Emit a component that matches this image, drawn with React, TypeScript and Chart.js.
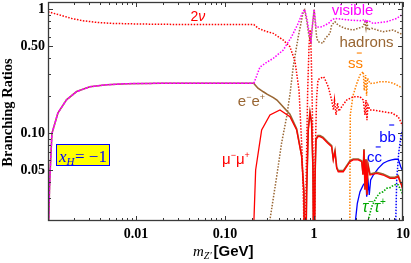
import React, { useEffect, useRef } from "react";
import { Chart, registerables } from "chart.js";

Chart.register(...registerables);

type Pt = [number, number];

// axis ranges: m_Z' in GeV, branching ratio
const X_RANGE: Pt = [0.00103, 10];
const Y_RANGE: Pt = [0.0195, 1.14];

const xTickValues = [0.01, 0.1, 1, 10];
const xTickLabels = ["0.01", "0.10", "1", "10"];
const yTickValues = [0.05, 0.1, 0.5, 1];
const yTickLabels = ["0.05", "0.10", "0.50", "1"];

const MU_THRESHOLD = 0.2113;

const brTwoNu: Pt[] = [
  [0.00103, 0.951], [0.0014, 0.895], [0.0019, 0.84], [0.00254, 0.805], [0.0035, 0.783],
  [0.00514, 0.767], [0.0111, 0.757], [0.03, 0.751], [0.1, 0.749], [0.2113, 0.749],
  [0.237, 0.699], [0.29, 0.66], [0.349, 0.637], [0.452, 0.562], [0.537, 0.497],
  [0.612, 0.38], [0.68, 0.22], [0.733, 0.073], [0.765, 0.025], [0.79, 0.003],
  [0.815, 0.04], [0.85, 0.22], [0.88, 0.5], [0.905, 0.68], [0.93, 0.45],
  [0.96, 0.15], [0.985, 0.04], [1.005, 0.003], [1.03, 0.06], [1.07, 0.19],
  [1.109, 0.268], [1.168, 0.276], [1.285, 0.284], [1.35, 0.265], [1.448, 0.236],
  [1.58, 0.1845], [1.655, 0.153], [1.7, 0.1845], [1.77, 0.14], [1.84, 0.1745],
  [1.91, 0.15], [2.05, 0.163], [2.33, 0.1845], [2.76, 0.1962], [3.288, 0.1962],
  [3.58, 0.1845], [3.741, 0.14], [3.84, 0.1845], [3.94, 0.127], [4.044, 0.168],
  [4.258, 0.153], [4.6, 0.153], [5.98, 0.1485], [7.48, 0.145], [8.85, 0.1353],
  [9.6, 0.1197], [10, 0.1124],
];

const brVisible: Pt[] = [
  [0.001028, 0.005], [0.00105, 0.02], [0.00107, 0.035], [0.00109, 0.05], [0.00114, 0.099],
  [0.00133, 0.145], [0.00166, 0.185], [0.00216, 0.216], [0.00304, 0.236], [0.00469, 0.245],
  [0.0079, 0.25], [0.02, 0.252], [0.1, 0.252], [0.2113, 0.252],
  [0.2473, 0.34], [0.3, 0.375], [0.349, 0.4], [0.452, 0.467], [0.56, 0.598],
  [0.666, 0.767], [0.74, 0.93], [0.785, 0.995], [0.83, 0.85], [0.88, 0.65],
  [0.925, 0.56], [0.96, 0.75], [1.005, 0.995], [1.03, 0.85], [1.053, 0.72],
  [1.109, 0.715], [1.23, 0.72], [1.46, 0.767], [1.58, 0.815], [1.72, 0.841],
  [2.0, 0.83], [2.5, 0.815], [3.3, 0.805], [3.6, 0.815], [3.74, 0.79],
  [3.84, 0.82], [3.94, 0.78], [4.04, 0.81], [4.6, 0.767], [6.56, 0.79],
  [8.5, 0.841], [9.6, 0.895], [10, 0.928],
];

const brHadrons: Pt[] = [
  [0.29, 0.008], [0.3203, 0.0199], [0.35, 0.03], [0.381, 0.0444], [0.433, 0.083],
  [0.4934, 0.1353], [0.54, 0.21], [0.585, 0.343], [0.666, 0.598], [0.758, 0.951],
  [0.785, 0.985], [0.83, 0.8], [0.88, 0.6], [0.925, 0.545], [0.96, 0.72],
  [1.005, 0.99], [1.03, 0.8], [1.07, 0.6], [1.109, 0.545], [1.262, 0.53],
  [1.34, 0.58], [1.513, 0.637], [1.58, 0.743], [1.722, 0.79], [1.86, 0.743],
  [2.23, 0.699], [2.743, 0.677], [3.553, 0.72], [3.74, 0.79], [3.84, 0.7],
  [3.94, 0.8], [4.04, 0.68], [4.45, 0.699], [5.96, 0.656], [7.72, 0.677],
  [9.25, 0.637], [10, 0.62],
];

const brEE: Pt[] = [
  [0.001028, 0.005], [0.00105, 0.02], [0.00107, 0.035], [0.00109, 0.05], [0.00114, 0.099],
  [0.00133, 0.145], [0.00166, 0.185], [0.00216, 0.216], [0.00304, 0.236], [0.00469, 0.245],
  [0.0079, 0.25], [0.02, 0.252], [0.1, 0.252], [0.2113, 0.252], [0.215, 0.247],
  [0.235, 0.23], [0.27, 0.215], [0.3, 0.205], [0.35, 0.193], [0.384, 0.1845],
  [0.45, 0.163], [0.537, 0.142], [0.639, 0.108], [0.727, 0.066], [0.772, 0.0335],
  [0.792, 0.003], [0.828, 0.0335], [0.863, 0.108], [0.902, 0.148], [0.94, 0.123],
  [0.975, 0.051], [1.0, 0.003], [1.026, 0.041], [1.053, 0.09], [1.109, 0.0955],
  [1.168, 0.0955], [1.262, 0.0925], [1.42, 0.085], [1.58, 0.079], [1.648, 0.062],
  [1.722, 0.072], [1.8, 0.053], [1.875, 0.0497], [2.135, 0.0497], [2.54, 0.0598],
  [2.76, 0.0617], [3.146, 0.0617], [3.436, 0.0598], [3.553, 0.0467], [3.646, 0.0743],
  [3.741, 0.0354], [3.84, 0.0617], [3.94, 0.0322], [4.044, 0.0563], [4.258, 0.0467],
  [5.065, 0.0482], [5.98, 0.0467], [7.145, 0.044], [8.13, 0.044], [8.85, 0.0453],
  [9.253, 0.0413], [9.6, 0.0389], [10, 0.0354],
];

const brMuMu: Pt[] = [
  [0.2113, 0.003], [0.2118, 0.0199], [0.2213, 0.0503], [0.2585, 0.1057], [0.3203, 0.1397],
  [0.415, 0.1532], [0.537, 0.1353], [0.639, 0.1057], [0.727, 0.0644], [0.772, 0.0327],
  [0.792, 0.003], [0.828, 0.0327], [0.863, 0.1057], [0.902, 0.145], [0.94, 0.12],
  [0.975, 0.05], [1.0, 0.003], [1.026, 0.04], [1.053, 0.0878], [1.109, 0.0934],
  [1.168, 0.0934], [1.262, 0.0907], [1.42, 0.0831], [1.58, 0.0775], [1.648, 0.0606],
  [1.722, 0.0707], [1.8, 0.0519], [1.875, 0.0487], [2.135, 0.0487], [2.54, 0.0587],
  [2.76, 0.0606], [3.146, 0.0606], [3.436, 0.0587], [3.553, 0.0458], [3.646, 0.0729],
  [3.741, 0.0347], [3.84, 0.0606], [3.94, 0.0316], [4.044, 0.0552], [4.258, 0.0458],
  [5.065, 0.0473], [5.98, 0.0458], [7.145, 0.0431], [8.13, 0.0431], [8.85, 0.0444],
  [9.253, 0.0405], [9.6, 0.0381], [10, 0.0347],
];

const brSS: Pt[] = [
  [2.52, 0.008], [2.54, 0.05], [2.56, 0.14], [2.743, 0.2], [3.02, 0.25],
  [3.288, 0.294], [3.58, 0.312], [3.67, 0.22], [3.8, 0.294], [3.9, 0.2],
  [4.0, 0.277], [4.258, 0.251], [4.846, 0.253], [5.514, 0.259], [6.56, 0.259],
  [7.72, 0.253], [9.25, 0.236], [10, 0.231],
];

const brCC: Pt[] = [
  [2.9, 0.01], [2.93, 0.0199], [3.07, 0.0271], [3.288, 0.0336], [3.58, 0.0381],
  [3.84, 0.0405], [3.909, 0.0306], [4.075, 0.0393], [4.18, 0.0316], [4.33, 0.0418],
  [4.64, 0.0458], [5.27, 0.0519], [6.0, 0.057], [6.83, 0.0597], [7.47, 0.0606],
  [8.13, 0.0614], [8.86, 0.0614], [9.42, 0.0535], [10, 0.0487],
];

const brBB: Pt[] = [
  [8.2, 0.012], [8.3, 0.0199], [8.5, 0.0418], [8.95, 0.069], [9.46, 0.0934], [10, 0.109],
];

const brTauTau: Pt[] = [
  [3.6, 0.008], [4.075, 0.0199], [4.45, 0.0254], [4.64, 0.0271], [5.065, 0.0306],
  [5.51, 0.0328], [5.98, 0.0336], [6.56, 0.0358], [7.145, 0.0362], [7.78, 0.0378],
  [8.5, 0.0386], [8.9, 0.038], [9.25, 0.0355], [10, 0.032],
];

const RED = "#ff0000";
const MAGENTA = "#ff00ff";
const BROWN = "#996633";
const ORANGE = "#ff8000";
const BLUE = "#0000ff";
const GREEN = "#00a800";
const FRAME = "#3a3a3a";
const SANS = '"Liberation Sans", Arial, sans-serif';
const SERIF = '"Liberation Serif", "Times New Roman", serif';

const sans = (s: number) => `${s}px ${SANS}`;
const sansI = (s: number) => `italic ${s}px ${SANS}`;
const DOT = [1.5, 1.5];

type Seg = { t: string; font: string; dy?: number; bar?: boolean };
type CurveLabel = { at: Pt; color: string; segs: Seg[]; barDy?: number };

const curveLabels: CurveLabel[] = [
  { at: [0.0497, 0.8], color: RED, segs: [{ t: "2", font: sans(14) }, { t: "ν", font: sansI(14) }] },
  { at: [2.71, 0.903], color: MAGENTA, segs: [{ t: "visible", font: sans(15) }] },
  { at: [3.89, 0.498], color: BROWN, segs: [{ t: "hadrons", font: sans(15) }] },
  {
    at: [2.93, 0.3374], color: ORANGE, barDy: -14.5,
    segs: [{ t: "s", font: sans(15) }, { t: "s", font: sans(15), bar: true }],
  },
  {
    at: [0.1985, 0.165], color: BROWN,
    segs: [
      { t: "e", font: sans(15) }, { t: "−", font: sans(9), dy: -6 },
      { t: "e", font: sans(15) }, { t: "+", font: sans(9), dy: -6 },
    ],
  },
  {
    at: [0.133, 0.0562], color: RED,
    segs: [
      { t: "μ", font: sans(15) }, { t: "−", font: sans(9), dy: -6 },
      { t: "μ", font: sans(15) }, { t: "+", font: sans(9), dy: -6 },
    ],
  },
  {
    at: [6.7, 0.0846], color: BLUE, barDy: -17,
    segs: [{ t: "b", font: sans(15) }, { t: "b", font: sans(15), bar: true }],
  },
  {
    at: [4.78, 0.0584], color: BLUE, barDy: -15,
    segs: [{ t: "c", font: sans(15) }, { t: "c", font: sans(15), bar: true }],
  },
  {
    at: [4.72, 0.0231], color: GREEN,
    segs: [
      { t: "τ", font: sansI(16) }, { t: "−", font: sans(10), dy: -7 },
      { t: "τ", font: sansI(16) }, { t: "+", font: sans(10), dy: -7 },
    ],
  },
];

function drawRich(ctx: CanvasRenderingContext2D, segs: Seg[], cx: number, base: number, color: string, barDy = 0) {
  const widths = segs.map((s) => {
    ctx.font = s.font;
    return ctx.measureText(s.t).width;
  });
  const total = widths.reduce((a, b) => a + b, 0);
  let x = cx - total / 2;
  ctx.fillStyle = color;
  ctx.strokeStyle = color;
  ctx.textAlign = "left";
  ctx.textBaseline = "alphabetic";
  segs.forEach((s, i) => {
    ctx.font = s.font;
    ctx.fillText(s.t, x, base + (s.dy ?? 0));
    if (s.bar) {
      const mid = x + widths[i] / 2;
      ctx.lineWidth = 1.1;
      ctx.beginPath();
      ctx.moveTo(mid - 2.5, base + barDy);
      ctx.lineTo(mid + 2.5, base + barDy);
      ctx.stroke();
    }
    x += widths[i];
  });
}

const decorations = {
  id: "decorations",
  afterDraw(chart: any) {
    const { ctx, chartArea: a, scales } = chart;
    const xs = scales.x;
    const ys = scales.y;
    ctx.save();

    // frame with inward ticks on all four sides
    ctx.strokeStyle = FRAME;
    ctx.lineWidth = 1;
    ctx.beginPath();
    for (let e = -3; e <= 1; e++) {
      for (let m = 1; m < 10; m++) {
        const v = m * Math.pow(10, e);
        if (v < xs.min * 0.999 || v > xs.max * 1.001) continue;
        const p = Math.round(xs.getPixelForValue(v)) + 0.5;
        const len = m === 1 ? 5 : 3;
        ctx.moveTo(p, a.bottom);
        ctx.lineTo(p, a.bottom - len);
        ctx.moveTo(p, a.top);
        ctx.lineTo(p, a.top + len);
      }
    }
    for (let e = -2; e <= 0; e++) {
      for (let m = 1; m < 10; m++) {
        const v = m * Math.pow(10, e);
        if (v < ys.min * 0.999 || v > ys.max * 1.001) continue;
        const p = Math.round(ys.getPixelForValue(v)) + 0.5;
        const len = yTickValues.some((t) => Math.abs(t - v) < 1e-9) ? 5 : 3;
        ctx.moveTo(a.left, p);
        ctx.lineTo(a.left + len, p);
        ctx.moveTo(a.right, p);
        ctx.lineTo(a.right - len, p);
      }
    }
    ctx.stroke();
    ctx.lineWidth = 1.3;
    ctx.strokeRect(a.left + 0.5, a.top + 0.5, a.right - a.left - 1, a.bottom - a.top - 1);

    // curve labels
    for (const L of curveLabels) {
      drawRich(ctx, L.segs, xs.getPixelForValue(L.at[0]), ys.getPixelForValue(L.at[1]), L.color, L.barDy ?? 0);
    }

    // x_H box
    const bx = a.left + 8;
    const by = a.top + 142;
    ctx.fillStyle = "#ffff00";
    ctx.fillRect(bx, by, 54, 22);
    ctx.strokeStyle = BLUE;
    ctx.lineWidth = 1;
    ctx.strokeRect(bx + 0.5, by + 0.5, 53, 21);
    ctx.fillStyle = BLUE;
    ctx.textAlign = "left";
    ctx.textBaseline = "alphabetic";
    ctx.font = `italic 17px ${SERIF}`;
    ctx.fillText("x", bx + 3, by + 18);
    ctx.font = `italic 11px ${SERIF}`;
    ctx.fillText("H", bx + 10.5, by + 21);
    ctx.font = `17px ${SERIF}`;
    ctx.fillText("= −1", bx + 19, by + 18);

    // y axis title
    ctx.save();
    ctx.translate(8, (a.top + a.bottom) / 2 + 1);
    ctx.rotate(-Math.PI / 2);
    ctx.fillStyle = "#000";
    ctx.textAlign = "center";
    ctx.textBaseline = "middle";
    ctx.font = `bold 14.5px ${SERIF}`;
    ctx.fillText("Branching Ratios", 0, 0);
    ctx.restore();

    // x axis title
    ctx.fillStyle = "#000";
    ctx.textAlign = "left";
    ctx.textBaseline = "alphabetic";
    let tx = 193;
    const tb = 256;
    ctx.font = `italic 15px ${SERIF}`;
    ctx.fillText("m", tx, tb);
    tx += ctx.measureText("m").width;
    ctx.font = `italic 10px ${SERIF}`;
    ctx.fillText("Z′", tx, tb + 2.5);
    tx += ctx.measureText("Z′").width + 2;
    ctx.font = `bold 15px ${SANS}`;
    ctx.fillText("[GeV]", tx, tb);

    ctx.restore();
  },
};

function series(label: string, pts: Pt[], color: string, dotted: boolean, width = 1.3, extra: any = {}) {
  return {
    label,
    data: pts.map(([x, y]) => ({ x, y })),
    borderColor: color,
    backgroundColor: color,
    borderWidth: width,
    borderDash: dotted ? DOT : [],
    borderCapStyle: "butt",
    pointRadius: 0,
    showLine: true,
    fill: false,
    tension: 0,
    ...extra,
  };
}

export default function App() {
  const ref = useRef<HTMLCanvasElement | null>(null);
  useEffect(() => {
    if (!ref.current) return;
    const chart = new Chart(ref.current, {
      type: "scatter",
      data: {
        datasets: [
          series("visible", brVisible, MAGENTA, true, 1.5, {
            segment: {
              borderDash: (c: any) => (c.p1.parsed.x <= MU_THRESHOLD ? [3, 1] : undefined),
            },
          }),
          series("μ−μ+", brMuMu, RED, false, 1.3),
          series("2ν", brTwoNu, RED, true, 1.5),
          series("hadrons", brHadrons, BROWN, true, 1.5),
          series("e−e+", brEE, BROWN, false, 1.6),
          series("ss", brSS, ORANGE, true, 1.5),
          series("cc", brCC, BLUE, false, 1.3),
          series("bb", brBB, BLUE, true, 1.5),
          series("τ−τ+", brTauTau, GREEN, true, 1.6),
        ] as any,
      },
      options: {
        animation: false,
        responsive: false,
        events: [],
        layout: { padding: { top: 2, right: 8, left: 0, bottom: 0 } },
        plugins: { legend: { display: false }, tooltip: { enabled: false } },
        scales: {
          x: {
            type: "logarithmic",
            min: X_RANGE[0],
            max: X_RANGE[1],
            bounds: "data",
            grid: { display: false, drawTicks: false },
            border: { display: false },
            afterBuildTicks: (s: any) => {
              s.ticks = xTickValues.map((v) => ({ value: v }));
            },
            afterFit: (s: any) => {
              s.height = 42;
              s.paddingLeft = 0;
              s.paddingRight = 0;
            },
            ticks: {
              autoSkip: false,
              maxRotation: 0,
              minRotation: 0,
              padding: 5,
              color: "#000",
              font: { family: SERIF, size: 14, weight: "bold" },
              callback: (_v: any, i: number) => xTickLabels[i],
            },
          },
          y: {
            type: "logarithmic",
            min: Y_RANGE[0],
            max: Y_RANGE[1],
            bounds: "data",
            grid: { display: false, drawTicks: false },
            border: { display: false },
            afterBuildTicks: (s: any) => {
              s.ticks = yTickValues.map((v) => ({ value: v }));
            },
            afterFit: (s: any) => {
              s.width = 48;
              s.paddingTop = 0;
              s.paddingBottom = 0;
            },
            ticks: {
              autoSkip: false,
              padding: 3,
              color: "#000",
              font: { family: SERIF, size: 14, weight: "bold" },
              callback: (_v: any, i: number) => yTickLabels[i],
            },
          },
        },
      } as any,
      plugins: [decorations],
    });
    return () => chart.destroy();
  }, []);

  return (
    <div style={{ position: "fixed", left: 0, top: 0, width: 411, height: 263, background: "#fff" }}>
      <canvas ref={ref} width={411} height={263} style={{ display: "block" }} />
    </div>
  );
}
